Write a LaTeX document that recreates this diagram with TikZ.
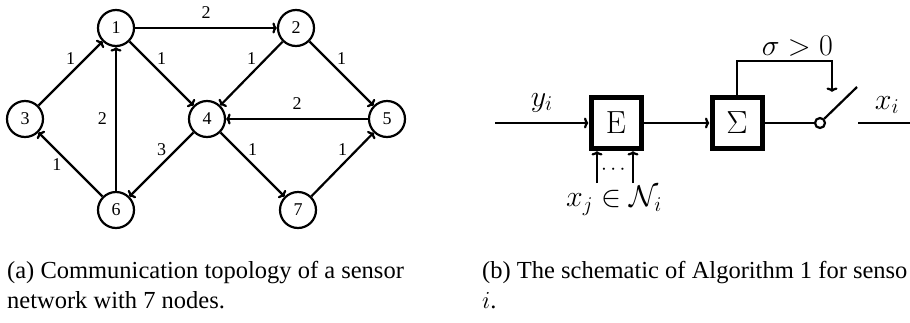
\RequirePackage{fix-cm}
\documentclass[tikz,border=0pt]{standalone}
\usepackage[no-math]{fontspec}
\setmainfont{Liberation Serif}
\usepackage{amsmath,amssymb}
\usetikzlibrary{arrows,arrows.meta,positioning,calc}

\begin{document}
\begin{tikzpicture}[
    x=1pt, y=-1pt,
    vertex/.style={circle, draw, line width=2.2pt, minimum size=36pt, inner sep=0pt, font=\fontsize{18}{20}\selectfont},
    arr/.style={->, line width=2.2pt, >={To[length=4.5pt, width=11pt]}},
    wire/.style={line width=2.2pt},
    wt/.style={font=\fontsize{18}{20}\selectfont, inner sep=2pt},
    blk/.style={rectangle, draw, line width=5pt, minimum width=50pt, minimum height=51pt, inner sep=0pt, font=\fontsize{32}{38}\selectfont},
    mth/.style={font=\fontsize{30}{36}\selectfont, inner sep=0pt},
    captxt/.style={font=\fontsize{24.5}{30}\selectfont, anchor=base west, inner sep=0pt},
    node distance=91pt and 91pt, on grid
]
    \useasboundingbox (0,0) rectangle (910,322);

    % (a) sensor network
    \node[vertex]                      (v1) at (116,28) {1};
    \node[vertex, right=180pt of v1]   (v2) {2};
    \node[vertex, below left=of v1]    (v3) {3};
    \node[vertex, below right=of v1]   (v4) {4};
    \node[vertex, right=180pt of v4]   (v5) {5};
    \node[vertex, below left=of v4]    (v6) {6};
    \node[vertex, below right=of v4]   (v7) {7};

    \draw[arr] (v1) -- node[wt, above=6pt] {2} (v2);
    \draw[arr] (v3) -- node[wt, above=6pt] {1} (v1);
    \draw[arr] (v6) -- node[wt, left=6pt]  {1} (v3);
    \draw[arr] (v6) -- node[wt, left=6pt]  {2} (v1);
    \draw[arr] (v1) -- node[wt, above=6pt] {1} (v4);
    \draw[arr] (v2) -- node[wt, above=6pt] {1} (v4);
    \draw[arr] (v2) -- node[wt, above=6pt] {1} (v5);
    \draw[arr] (v5) -- node[wt, above=6pt] {2} (v4);
    \draw[arr] (v4) -- node[wt, above=6pt] {3} (v6);
    \draw[arr] (v4) -- node[wt, above=6pt] {1} (v7);
    \draw[arr] (v7) -- node[wt, above=6pt] {1} (v5);

    % (b) schematic
    \node[blk]                  (E) at (616,123) {$\mathrm{E}$};
    \node[blk, right=121pt of E] (S) {$\Sigma$};
    \node[circle, draw, line width=2.2pt, minimum size=10pt, inner sep=0pt] (sw) at (820,123) {};

    \coordinate (in)   at (495,123);
    \coordinate (fb)   at (832,92);
    \coordinate (tip)  at (857,87);
    \coordinate (out0) at (858,123);
    \coordinate (out)  at (916,123);
    \coordinate (n1)   at (597,183);
    \coordinate (n2)   at (633,183);

    \draw[arr] (in) -- node[mth, above=10pt] {$y_i$} (E);
    \draw[arr] (E) -- (S);
    \draw[wire] (S) -- (sw);
    \draw[wire] (sw.45) -- (tip);
    \draw[arr] (S.north) -- ++(0,-34) -| (fb);
    \node[mth, anchor=base east] (sig) at (833,55) {$\sigma>0$};
    \draw[arr] (out0) -- node[mth, above=8pt] {$x_i$} (out);

    \draw[arr] (n1) -- (n1 |- E.south);
    \draw[arr] (n2) -- (n2 |- E.south);
    \node[inner sep=0pt, font=\fontsize{21}{24}\selectfont] (dots) at (615,170) {$\cdots$};
    \node[mth] (nbr)  at (614,201) {$x_j \in \mathcal{N}_i$};

    % captions
    \node[captxt] (capa1) at (7,278)   {(a) Communication topology of a sensor};
    \node[captxt] (capa2) at (7,308)   {network with 7 nodes.};
    \node[captxt] (capb1) at (482,278) {(b) The schematic of Algorithm 1 for senso};
    \node[captxt] (capb2) at (482,308) {$i$.};

\end{tikzpicture}
\end{document}
